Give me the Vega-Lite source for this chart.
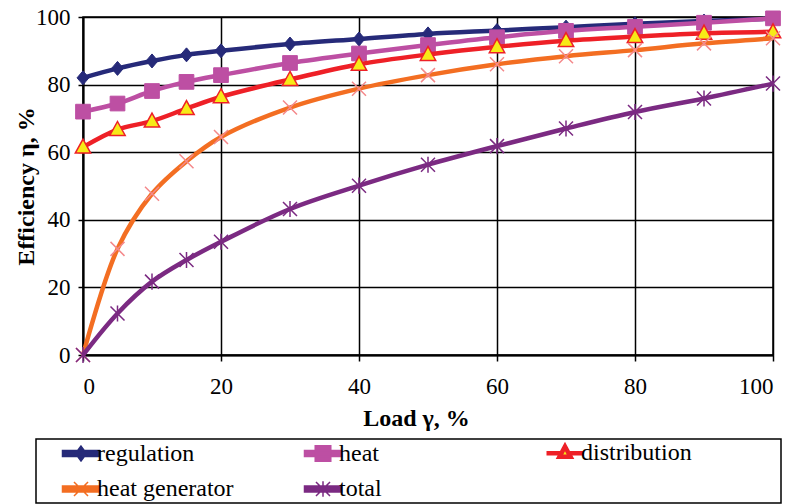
{
  "$schema": "https://vega.github.io/schema/vega-lite/v6.json",
  "autosize": {"type": "none"},
  "width": 690,
  "height": 338,
  "padding": {"left": 83, "top": 17, "right": 36, "bottom": 149},
  "background": "white",
  "config": {
    "font": "Liberation Serif",
    "view": {"stroke": "black", "strokeWidth": 1.5},
    "axis": {
      "labelFont": "Liberation Serif",
      "labelFontSize": 23,
      "labelColor": "black",
      "titleFont": "Liberation Serif",
      "titleFontSize": 24,
      "titleFontWeight": "bold",
      "titleColor": "black",
      "domainColor": "black",
      "domainWidth": 2,
      "tickColor": "black",
      "tickWidth": 1.5,
      "gridColor": "black",
      "gridWidth": 1.5,
      "gridOpacity": 1
    }
  },
  "data": {
    "values": [
      {"s": "regulation", "x": 0, "y": 82},
      {"s": "regulation", "x": 5, "y": 84.8},
      {"s": "regulation", "x": 10, "y": 87},
      {"s": "regulation", "x": 15, "y": 88.8},
      {"s": "regulation", "x": 20, "y": 90},
      {"s": "regulation", "x": 30, "y": 92},
      {"s": "regulation", "x": 40, "y": 93.5},
      {"s": "regulation", "x": 50, "y": 95},
      {"s": "regulation", "x": 60, "y": 96},
      {"s": "regulation", "x": 70, "y": 97},
      {"s": "regulation", "x": 80, "y": 98},
      {"s": "regulation", "x": 90, "y": 98.8},
      {"s": "regulation", "x": 100, "y": 99.5},
      {"s": "heat", "x": 0, "y": 72},
      {"s": "heat", "x": 5, "y": 74.4},
      {"s": "heat", "x": 10, "y": 78.1},
      {"s": "heat", "x": 15, "y": 80.8},
      {"s": "heat", "x": 20, "y": 82.8},
      {"s": "heat", "x": 30, "y": 86.4},
      {"s": "heat", "x": 40, "y": 89.2},
      {"s": "heat", "x": 50, "y": 91.7},
      {"s": "heat", "x": 60, "y": 94},
      {"s": "heat", "x": 70, "y": 95.9},
      {"s": "heat", "x": 80, "y": 97.1},
      {"s": "heat", "x": 90, "y": 98.3},
      {"s": "heat", "x": 100, "y": 99.6},
      {"s": "distribution", "x": 0, "y": 61.5},
      {"s": "distribution", "x": 5, "y": 66.7},
      {"s": "distribution", "x": 10, "y": 69.2},
      {"s": "distribution", "x": 15, "y": 72.9},
      {"s": "distribution", "x": 20, "y": 76.4},
      {"s": "distribution", "x": 30, "y": 81.5},
      {"s": "distribution", "x": 40, "y": 86},
      {"s": "distribution", "x": 50, "y": 88.9},
      {"s": "distribution", "x": 60, "y": 91.2},
      {"s": "distribution", "x": 70, "y": 93},
      {"s": "distribution", "x": 80, "y": 94.2},
      {"s": "distribution", "x": 90, "y": 95.2},
      {"s": "distribution", "x": 100, "y": 95.6},
      {"s": "heat generator", "x": 0, "y": 0},
      {"s": "heat generator", "x": 5, "y": 31.4},
      {"s": "heat generator", "x": 10, "y": 47.7},
      {"s": "heat generator", "x": 15, "y": 57.3},
      {"s": "heat generator", "x": 20, "y": 64.5},
      {"s": "heat generator", "x": 30, "y": 73.2},
      {"s": "heat generator", "x": 40, "y": 78.8},
      {"s": "heat generator", "x": 50, "y": 82.8},
      {"s": "heat generator", "x": 60, "y": 86},
      {"s": "heat generator", "x": 70, "y": 88.4},
      {"s": "heat generator", "x": 80, "y": 90.2},
      {"s": "heat generator", "x": 90, "y": 92.2},
      {"s": "heat generator", "x": 100, "y": 93.7},
      {"s": "total", "x": 0, "y": 0},
      {"s": "total", "x": 5, "y": 12.3},
      {"s": "total", "x": 10, "y": 21.7},
      {"s": "total", "x": 15, "y": 28.1},
      {"s": "total", "x": 20, "y": 33.5},
      {"s": "total", "x": 30, "y": 43.2},
      {"s": "total", "x": 40, "y": 50.1},
      {"s": "total", "x": 50, "y": 56.3},
      {"s": "total", "x": 60, "y": 61.8},
      {"s": "total", "x": 70, "y": 67},
      {"s": "total", "x": 80, "y": 71.9},
      {"s": "total", "x": 90, "y": 75.9},
      {"s": "total", "x": 100, "y": 80.3}
    ]
  },
  "encoding": {
    "x": {
      "field": "x", "type": "quantitative",
      "scale": {"domain": [0, 100], "nice": false},
      "axis": {"values": [0, 20, 40, 60, 80, 100], "title": "Load γ, %", "tickSize": 6, "labelPadding": 14, "titleX": 333, "titleY": 70, "titleAlign": "center", "titleBaseline": "alphabetic"}
    },
    "y": {
      "field": "y", "type": "quantitative",
      "scale": {"domain": [0, 100], "nice": false},
      "axis": {"values": [0, 20, 40, 60, 80, 100], "title": "Efficiency η, %", "tickSize": 5, "labelPadding": 8, "titleX": -50, "titleY": 169, "titleAngle": -90, "titleAlign": "center", "titleBaseline": "alphabetic"}
    }
  },
  "layer": [
    {
      "transform": [{"filter": "datum.s === 'regulation'"}],
      "mark": {"type": "line", "interpolate": "catmull-rom", "strokeWidth": 4.5},
      "encoding": {
        "color": {
          "field": "s", "type": "nominal",
          "scale": {
            "domain": ["regulation", "heat", "distribution", "heat generator", "total"],
            "range": ["#262a79", "#bd4fa3", "#ee2027", "#f36e22", "#7b2a82"]
          },
          "legend": {
            "orient": "none",
            "legendX": -47,
            "legendY": 422,
            "title": null,
            "columns": 3,
            "direction": "horizontal",
            "gridAlign": "each",
            "columnPadding": 5,
            "rowPadding": 11,
            "padding": 2,
            "strokeColor": "black",
            "fillColor": "white",
            "labelFont": "Liberation Serif",
            "labelFontSize": 24,
            "labelColor": "black",
            "labelOffset": 4,
            "symbolOffset": 31,
            "symbolSize": 1369,
            "encode": {
              "legend": {"update": {"strokeWidth": {"value": 1.5}}},
              "symbols": {
                "update": {
                  "size": {"value": 1369},
                  "shape": {"signal": "(datum.value === 'regulation' ? 'M-1,-0.16L1,-0.16L1,0.16L-1,0.16Z M0,-0.4L0.3,0L0,0.4L-0.3,0Z' : datum.value === 'heat' ? 'M-1,-0.16L1,-0.16L1,0.16L-1,0.16Z M-0.42,-0.42L0.42,-0.42L0.42,0.42L-0.42,0.42Z' : datum.value === 'distribution' ? 'M-1,0L-0.22,0M0.22,0L1,0M0,-0.36L0.3,0.2L-0.3,0.2Z' : datum.value === 'heat generator' ? 'M-1,-0.16L1,-0.16L1,0.16L-1,0.16Z M-0.38,-0.38L0.38,0.38M-0.38,0.38L0.38,-0.38' : 'M-1,-0.16L1,-0.16L1,0.16L-1,0.16Z M-0.38,-0.38L0.38,0.38M-0.38,0.38L0.38,-0.38M0,-0.42L0,0.42') + (datum.value === 'distribution' ? 'M11.05,0L11.05,0' : 'M10.32,0L10.32,0')"},
                  "fill": {"signal": "datum.value === 'regulation' ? '#262a79' : datum.value === 'heat' ? '#bd4fa3' : datum.value === 'distribution' ? '#f7ea17' : datum.value === 'heat generator' ? '#f36e22' : '#7b2a82'"},
                  "stroke": {"signal": "datum.value === 'regulation' ? '#262a79' : datum.value === 'heat' ? '#bd4fa3' : datum.value === 'distribution' ? '#ee2027' : datum.value === 'heat generator' ? '#f4898b' : '#7b2a82'"},
                  "strokeWidth": {"signal": "datum.value === 'distribution' ? 4.5 : 1.5"},
                  "opacity": {"value": 1},
                  "fillOpacity": {"value": 1},
                  "strokeOpacity": {"value": 1}
                }
              }
            }
          }
        }
      }
    },
    {
      "transform": [{"filter": "datum.s === 'regulation'"}],
      "mark": {"type": "point", "filled": true, "size": 196, "shape": "M0,-1L0.85,0L0,1L-0.85,0Z", "fill": "#262a79", "stroke": "#262a79", "strokeWidth": 1, "opacity": 1}
    },
    {
      "transform": [{"filter": "datum.s === 'heat'"}],
      "mark": {"type": "line", "interpolate": "catmull-rom", "strokeWidth": 4.5},
      "encoding": {"color": {"field": "s", "type": "nominal"}}
    },
    {
      "transform": [{"filter": "datum.s === 'heat'"}],
      "mark": {"type": "point", "filled": true, "size": 196, "shape": "M-1.05,-1.05L1.05,-1.05L1.05,1.05L-1.05,1.05Z", "fill": "#bd4fa3", "stroke": "#bd4fa3", "strokeWidth": 1, "opacity": 1}
    },
    {
      "transform": [{"filter": "datum.s === 'distribution'"}],
      "mark": {"type": "line", "interpolate": "catmull-rom", "strokeWidth": 4.5},
      "encoding": {"color": {"field": "s", "type": "nominal"}}
    },
    {
      "transform": [{"filter": "datum.s === 'distribution'"}],
      "mark": {"type": "point", "filled": true, "size": 196, "shape": "M0,-1.15L1.1,0.85L-1.1,0.85Z", "fill": "#f7ea17", "stroke": "#ee2027", "strokeWidth": 1.5, "opacity": 1}
    },
    {
      "transform": [{"filter": "datum.s === 'heat generator'"}],
      "mark": {"type": "line", "interpolate": "catmull-rom", "strokeWidth": 4.5},
      "encoding": {"color": {"field": "s", "type": "nominal"}}
    },
    {
      "transform": [{"filter": "datum.s === 'heat generator'"}],
      "mark": {"type": "point", "filled": true, "size": 196, "shape": "M-1,-1L1,1M-1,1L1,-1", "fill": "#f4898b", "stroke": "#f4898b", "strokeWidth": 1.5, "opacity": 1}
    },
    {
      "transform": [{"filter": "datum.s === 'total'"}],
      "mark": {"type": "line", "interpolate": "catmull-rom", "strokeWidth": 4.5},
      "encoding": {"color": {"field": "s", "type": "nominal"}}
    },
    {
      "transform": [{"filter": "datum.s === 'total'"}],
      "mark": {"type": "point", "filled": true, "size": 196, "shape": "M-1,-1L1,1M-1,1L1,-1M0,-1.15L0,1.15", "fill": "#7b2a82", "stroke": "#7b2a82", "strokeWidth": 1.5, "opacity": 1}
    }
  ]
}
